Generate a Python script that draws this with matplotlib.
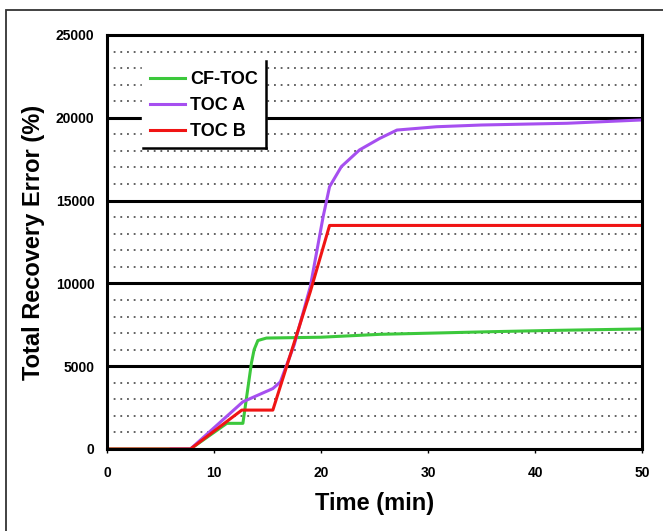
import matplotlib
matplotlib.use("Agg")
import matplotlib.pyplot as plt
from matplotlib.lines import Line2D
from matplotlib.patches import Rectangle
import numpy as np

plt.rcParams['font.family'] = ['Liberation Sans', 'DejaVu Sans']
plt.rcParams['font.weight'] = 'bold'

# Data
green_t = [0, 7.8, 11.2, 12.7, 13.5, 13.75, 14.1, 14.9, 20, 25.5, 30.5, 36, 42, 50]
green_v = [0, 0, 1550, 1550, 5200, 6000, 6550, 6700, 6750, 6925, 7000, 7085, 7165, 7250]

purple_t = [6, 7.8, 12.7, 15.5, 16.2, 17.5, 19.0, 20.2, 20.8, 21.9, 23.6, 25.5, 27.1, 30.8, 35, 43, 50]
purple_v = [0, 0, 2850, 3650, 4050, 6300, 9800, 14030, 15840, 17050, 18060, 18760, 19260, 19460, 19565, 19670, 19870]

red_t = [0, 7.8, 12.6, 15.5, 19.0, 20.8, 50]
red_v = [0, 0, 2350, 2350, 9500, 13500, 13500]

labels = ['CF-TOC', 'TOC A', 'TOC B']
colors = ['#3cc83c', '#a64ff0', '#f01414']

x_ticks = [0, 10, 20, 30, 40, 50]
y_ticks = [0, 5000, 10000, 15000, 20000, 25000]

W, H = 663, 531
fig = plt.figure(figsize=(W / 100, H / 100), dpi=100)
ax = fig.add_axes([107 / W, 1 - 449 / H, (642 - 107) / W, (449 - 35) / H])

ax.set_xlim(0, 50)
ax.set_ylim(0, 25000)

# grid lines
for v in range(1000, 25000, 1000):
    if v % 5000 == 0:
        ax.axhline(v, color='black', lw=2.2, zorder=1)
    else:
        ax.axhline(v, color='#555555', lw=1.3, ls=(0, (1, 2.7)), zorder=1)

ax.plot(green_t, green_v, color=colors[0], lw=2.2, label=labels[0], zorder=3)
ax.plot(purple_t, purple_v, color=colors[1], lw=2.2, label=labels[1], zorder=4)
ax.plot(red_t, red_v, color=colors[2], lw=2.2, label=labels[2], zorder=5)

for s in ax.spines.values():
    s.set_linewidth(2.2)
    s.set_zorder(6)

ax.set_xticks(x_ticks)
ax.set_yticks(y_ticks)
ax.set_xticklabels([str(t) for t in x_ticks], fontsize=10, fontweight='bold')
ax.set_yticklabels([str(t) for t in y_ticks], fontsize=10, fontweight='bold')
ax.tick_params(axis='x', length=3, width=1, pad=9, direction='out')
ax.tick_params(axis='y', length=0, pad=9)

ax.set_xlabel('Time (min)', fontsize=17, fontweight='bold', labelpad=9)
ax.set_ylabel('Total Recovery Error (%)', fontsize=17, fontweight='bold', labelpad=8)

leg = ax.legend(loc='upper left', bbox_to_anchor=((142 - 107) / 535, (449 - 63) / 414),
                borderaxespad=0, frameon=True, fancybox=False, framealpha=1,
                facecolor='white', edgecolor='white', handlelength=1.95,
                handletextpad=0.25, labelspacing=0.5, borderpad=0.45,
                prop={'size': 13, 'weight': 'bold'})
leg.set_zorder(10)

# outer border of the picture
fig.add_artist(Rectangle((6 / W, -0.2), 1.5, (1 - 10 / H) + 0.2, transform=fig.transFigure,
                         fill=False, edgecolor='#333333', lw=1.3))

# legend shadow (right and bottom edges)
fig.canvas.draw()
bb = leg.get_window_extent()
x0, y0, x1, y1 = bb.x0, bb.y0, bb.x1, bb.y1
fig.add_artist(Line2D([(x1) / W, (x1) / W], [(y0) / H, (y1 + 2) / H], transform=fig.transFigure,
                      color='black', lw=1.8, zorder=11))
fig.add_artist(Line2D([(x0 + 1) / W, (x1) / W], [(y0) / H, (y0) / H], transform=fig.transFigure,
                      color='black', lw=1.8, zorder=11))

fig.savefig('out.png', dpi=100)
